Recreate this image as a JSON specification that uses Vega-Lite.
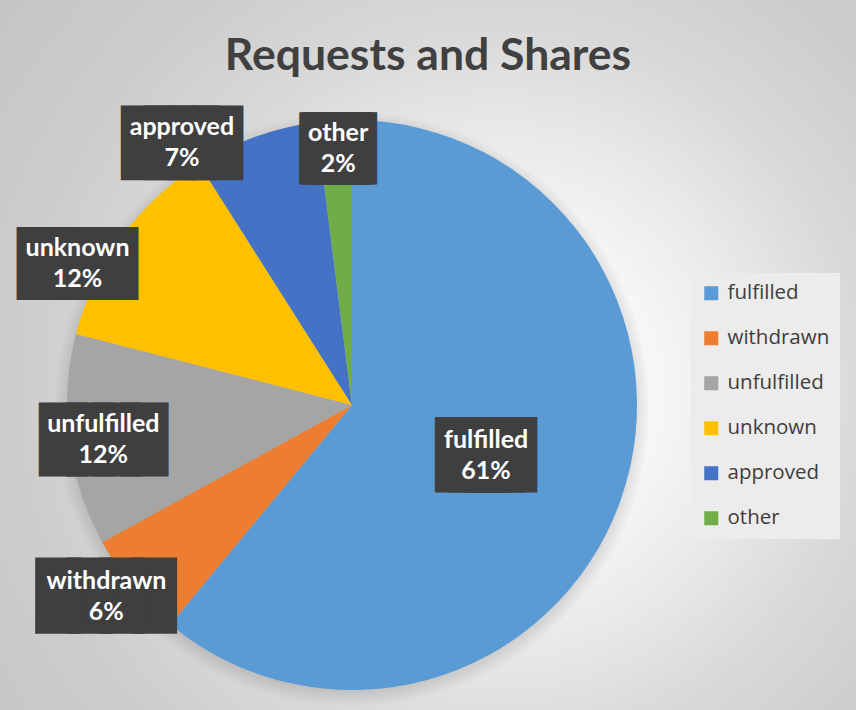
{
  "$schema": "https://vega.github.io/schema/vega-lite/v6.json",
  "width": 570,
  "height": 570,
  "autosize": {"type": "none"},
  "padding": {"left": 67, "top": 120, "right": 219, "bottom": 20},
  "background": "#d6d6d6",
  "config": {"view": {"stroke": null}},
  "title": {
    "text": "Requests and Shares",
    "font": "Lato",
    "fontSize": 44.5,
    "fontWeight": "bold",
    "color": "#404040",
    "anchor": "middle",
    "frame": "group",
    "dx": 76,
    "offset": -359,
    "baseline": "alphabetic"
  },
  "data": {
    "values": [
      {"name": "fulfilled", "share": 0.61, "idx": 1},
      {"name": "withdrawn", "share": 0.06, "idx": 2},
      {"name": "unfulfilled", "share": 0.12, "idx": 3},
      {"name": "unknown", "share": 0.12, "idx": 4},
      {"name": "approved", "share": 0.07, "idx": 5},
      {"name": "other", "share": 0.02, "idx": 6}
    ]
  },
  "layer": [
    {
      "transform": [{"aggregate": [{"op": "count", "as": "n"}]}],
      "mark": {
        "type": "arc", "theta": 0, "theta2": 6.3, "outerRadius": 650, "innerRadius": 0, "stroke": null,
        "fill": {
          "gradient": "radial", "x1": 0.614, "y1": 0.4885, "r1": 0, "x2": 0.614, "y2": 0.4885, "r2": 0.5,
          "stops": [
            {"offset": 0, "color": "#fdfdfd"},
            {"offset": 0.246, "color": "#f6f6f6"},
            {"offset": 0.394, "color": "#e9e9e9"},
            {"offset": 0.554, "color": "#d9d9d9"},
            {"offset": 0.738, "color": "#cdcdcd"},
            {"offset": 1, "color": "#c4c4c4"}
          ]
        }
      },
      "encoding": {}
    },
    {
      "transform": [{"aggregate": [{"op": "count", "as": "n"}]}],
      "mark": {
        "type": "arc", "theta": 0, "theta2": 6.3, "outerRadius": 298, "innerRadius": 0, "stroke": null, "yOffset": 4,
        "fill": {
          "gradient": "radial", "x1": 0.5, "y1": 0.5, "r1": 0, "x2": 0.5, "y2": 0.5, "r2": 0.5,
          "stops": [
            {"offset": 0.9, "color": "rgba(0,0,0,0.22)"},
            {"offset": 1, "color": "rgba(0,0,0,0)"}
          ]
        }
      },
      "encoding": {}
    },
    {
      "mark": {"type": "arc", "outerRadius": 285, "stroke": null},
      "encoding": {
        "theta": {"field": "share", "type": "quantitative", "stack": true},
        "order": {"field": "idx", "type": "quantitative"},
        "color": {
          "field": "name", "type": "nominal",
          "scale": {
            "domain": ["fulfilled", "withdrawn", "unfulfilled", "unknown", "approved", "other"],
            "range": ["#5B9BD5", "#ED7D31", "#A5A5A5", "#FFC000", "#4472C4", "#70AD47"]
          },
          "legend": {
            "title": null, "orient": "none", "legendX": 624, "legendY": 153,
            "symbolType": "square", "symbolSize": 196, "symbolStrokeWidth": 0,
            "labelFont": "Open Sans", "labelFontSize": 20.5, "labelColor": "#3d3d3d",
            "labelOffset": 6, "rowPadding": 24, "padding": 10, "fillColor": "#ececec"
          }
        }
      }
    },

    {"mark": {"type": "text", "font": "DejaVu Sans Mono", "radius": 143, "thetaOffset": 0.009, "fontSize": 21.7, "fill": "#3f3f3f", "stroke": "#3f3f3f", "strokeWidth": 49.7, "strokeJoin": "miter", "baseline": "alphabetic", "align": "center", "dy": 7.5},
     "encoding": {"theta": {"field": "share", "type": "quantitative", "stack": true}, "order": {"field": "idx", "type": "quantitative"}, "detail": {"field": "name"},
       "text": {"condition": {"test": "datum.name === 'fulfilled'", "value": "████"}, "value": ""}}},
    {"mark": {"type": "text", "font": "Lato", "fontWeight": "bold", "fontSize": 25, "fill": "#ffffff", "radius": 143, "thetaOffset": 0.009, "baseline": "alphabetic", "align": "center", "dy": -7},
     "encoding": {"theta": {"field": "share", "type": "quantitative", "stack": true}, "order": {"field": "idx", "type": "quantitative"}, "detail": {"field": "name"},
       "text": {"condition": {"test": "datum.name === 'fulfilled'", "field": "name", "type": "nominal"}, "value": ""}}},
    {"mark": {"type": "text", "font": "Lato", "fontWeight": "bold", "fontSize": 25, "fill": "#ffffff", "radius": 143, "thetaOffset": 0.009, "baseline": "alphabetic", "align": "center", "dy": 24},
     "encoding": {"theta": {"field": "share", "type": "quantitative", "stack": true}, "order": {"field": "idx", "type": "quantitative"}, "detail": {"field": "name"},
       "text": {"condition": {"test": "datum.name === 'fulfilled'", "field": "share", "type": "quantitative", "format": ".0%"}, "value": ""}}},

    {"mark": {"type": "text", "font": "DejaVu Sans Mono", "radius": 311, "thetaOffset": 0.031, "fontSize": 53.1, "fill": "#3f3f3f", "stroke": "#3f3f3f", "strokeWidth": 13.2, "strokeJoin": "miter", "baseline": "alphabetic", "align": "center", "dy": 18.4},
     "encoding": {"theta": {"field": "share", "type": "quantitative", "stack": true}, "order": {"field": "idx", "type": "quantitative"}, "detail": {"field": "name"},
       "text": {"condition": {"test": "datum.name === 'withdrawn'", "value": "████"}, "value": ""}}},
    {"mark": {"type": "text", "font": "Lato", "fontWeight": "bold", "fontSize": 25, "fill": "#ffffff", "radius": 311, "thetaOffset": 0.031, "baseline": "alphabetic", "align": "center", "dy": -7},
     "encoding": {"theta": {"field": "share", "type": "quantitative", "stack": true}, "order": {"field": "idx", "type": "quantitative"}, "detail": {"field": "name"},
       "text": {"condition": {"test": "datum.name === 'withdrawn'", "field": "name", "type": "nominal"}, "value": ""}}},
    {"mark": {"type": "text", "font": "Lato", "fontWeight": "bold", "fontSize": 25, "fill": "#ffffff", "radius": 311, "thetaOffset": 0.031, "baseline": "alphabetic", "align": "center", "dy": 24},
     "encoding": {"theta": {"field": "share", "type": "quantitative", "stack": true}, "order": {"field": "idx", "type": "quantitative"}, "detail": {"field": "name"},
       "text": {"condition": {"test": "datum.name === 'withdrawn'", "field": "share", "type": "quantitative", "format": ".0%"}, "value": ""}}},

    {"mark": {"type": "text", "font": "DejaVu Sans Mono", "radius": 251, "thetaOffset": -0.012, "fontSize": 45, "fill": "#3f3f3f", "stroke": "#3f3f3f", "strokeWidth": 20.6, "strokeJoin": "miter", "baseline": "alphabetic", "align": "center", "dy": 15.6},
     "encoding": {"theta": {"field": "share", "type": "quantitative", "stack": true}, "order": {"field": "idx", "type": "quantitative"}, "detail": {"field": "name"},
       "text": {"condition": {"test": "datum.name === 'unfulfilled'", "value": "████"}, "value": ""}}},
    {"mark": {"type": "text", "font": "Lato", "fontWeight": "bold", "fontSize": 25, "fill": "#ffffff", "radius": 251, "thetaOffset": -0.012, "baseline": "alphabetic", "align": "center", "dy": -7},
     "encoding": {"theta": {"field": "share", "type": "quantitative", "stack": true}, "order": {"field": "idx", "type": "quantitative"}, "detail": {"field": "name"},
       "text": {"condition": {"test": "datum.name === 'unfulfilled'", "field": "name", "type": "nominal"}, "value": ""}}},
    {"mark": {"type": "text", "font": "Lato", "fontWeight": "bold", "fontSize": 25, "fill": "#ffffff", "radius": 251, "thetaOffset": -0.012, "baseline": "alphabetic", "align": "center", "dy": 24},
     "encoding": {"theta": {"field": "share", "type": "quantitative", "stack": true}, "order": {"field": "idx", "type": "quantitative"}, "detail": {"field": "name"},
       "text": {"condition": {"test": "datum.name === 'unfulfilled'", "field": "share", "type": "quantitative", "format": ".0%"}, "value": ""}}},

    {"mark": {"type": "text", "font": "DejaVu Sans Mono", "radius": 309, "thetaOffset": -0.151, "fontSize": 39.4, "fill": "#3f3f3f", "stroke": "#3f3f3f", "strokeWidth": 26.1, "strokeJoin": "miter", "baseline": "alphabetic", "align": "center", "dy": 13.6},
     "encoding": {"theta": {"field": "share", "type": "quantitative", "stack": true}, "order": {"field": "idx", "type": "quantitative"}, "detail": {"field": "name"},
       "text": {"condition": {"test": "datum.name === 'unknown'", "value": "████"}, "value": ""}}},
    {"mark": {"type": "text", "font": "Lato", "fontWeight": "bold", "fontSize": 25, "fill": "#ffffff", "radius": 309, "thetaOffset": -0.151, "baseline": "alphabetic", "align": "center", "dy": -7},
     "encoding": {"theta": {"field": "share", "type": "quantitative", "stack": true}, "order": {"field": "idx", "type": "quantitative"}, "detail": {"field": "name"},
       "text": {"condition": {"test": "datum.name === 'unknown'", "field": "name", "type": "nominal"}, "value": ""}}},
    {"mark": {"type": "text", "font": "Lato", "fontWeight": "bold", "fontSize": 25, "fill": "#ffffff", "radius": 309, "thetaOffset": -0.151, "baseline": "alphabetic", "align": "center", "dy": 24},
     "encoding": {"theta": {"field": "share", "type": "quantitative", "stack": true}, "order": {"field": "idx", "type": "quantitative"}, "detail": {"field": "name"},
       "text": {"condition": {"test": "datum.name === 'unknown'", "field": "share", "type": "quantitative", "format": ".0%"}, "value": ""}}},

    {"mark": {"type": "text", "font": "DejaVu Sans Mono", "radius": 313, "thetaOffset": -0.229, "fontSize": 38.6, "fill": "#3f3f3f", "stroke": "#3f3f3f", "strokeWidth": 29.1, "strokeJoin": "miter", "baseline": "alphabetic", "align": "center", "dy": 13.4},
     "encoding": {"theta": {"field": "share", "type": "quantitative", "stack": true}, "order": {"field": "idx", "type": "quantitative"}, "detail": {"field": "name"},
       "text": {"condition": {"test": "datum.name === 'approved'", "value": "████"}, "value": ""}}},
    {"mark": {"type": "text", "font": "Lato", "fontWeight": "bold", "fontSize": 25, "fill": "#ffffff", "radius": 313, "thetaOffset": -0.229, "baseline": "alphabetic", "align": "center", "dy": -7},
     "encoding": {"theta": {"field": "share", "type": "quantitative", "stack": true}, "order": {"field": "idx", "type": "quantitative"}, "detail": {"field": "name"},
       "text": {"condition": {"test": "datum.name === 'approved'", "field": "name", "type": "nominal"}, "value": ""}}},
    {"mark": {"type": "text", "font": "Lato", "fontWeight": "bold", "fontSize": 25, "fill": "#ffffff", "radius": 313, "thetaOffset": -0.229, "baseline": "alphabetic", "align": "center", "dy": 24},
     "encoding": {"theta": {"field": "share", "type": "quantitative", "stack": true}, "order": {"field": "idx", "type": "quantitative"}, "detail": {"field": "name"},
       "text": {"condition": {"test": "datum.name === 'approved'", "field": "share", "type": "quantitative", "format": ".0%"}, "value": ""}}},

    {"mark": {"type": "text", "font": "DejaVu Sans Mono", "radius": 257, "thetaOffset": 0.009, "fontSize": 4.8, "fill": "#3f3f3f", "stroke": "#3f3f3f", "strokeWidth": 66.4, "strokeJoin": "miter", "baseline": "alphabetic", "align": "center", "dy": 1.7},
     "encoding": {"theta": {"field": "share", "type": "quantitative", "stack": true}, "order": {"field": "idx", "type": "quantitative"}, "detail": {"field": "name"},
       "text": {"condition": {"test": "datum.name === 'other'", "value": "████"}, "value": ""}}},
    {"mark": {"type": "text", "font": "Lato", "fontWeight": "bold", "fontSize": 25, "fill": "#ffffff", "radius": 257, "thetaOffset": 0.009, "baseline": "alphabetic", "align": "center", "dy": -7},
     "encoding": {"theta": {"field": "share", "type": "quantitative", "stack": true}, "order": {"field": "idx", "type": "quantitative"}, "detail": {"field": "name"},
       "text": {"condition": {"test": "datum.name === 'other'", "field": "name", "type": "nominal"}, "value": ""}}},
    {"mark": {"type": "text", "font": "Lato", "fontWeight": "bold", "fontSize": 25, "fill": "#ffffff", "radius": 257, "thetaOffset": 0.009, "baseline": "alphabetic", "align": "center", "dy": 24},
     "encoding": {"theta": {"field": "share", "type": "quantitative", "stack": true}, "order": {"field": "idx", "type": "quantitative"}, "detail": {"field": "name"},
       "text": {"condition": {"test": "datum.name === 'other'", "field": "share", "type": "quantitative", "format": ".0%"}, "value": ""}}}
  ]
}
